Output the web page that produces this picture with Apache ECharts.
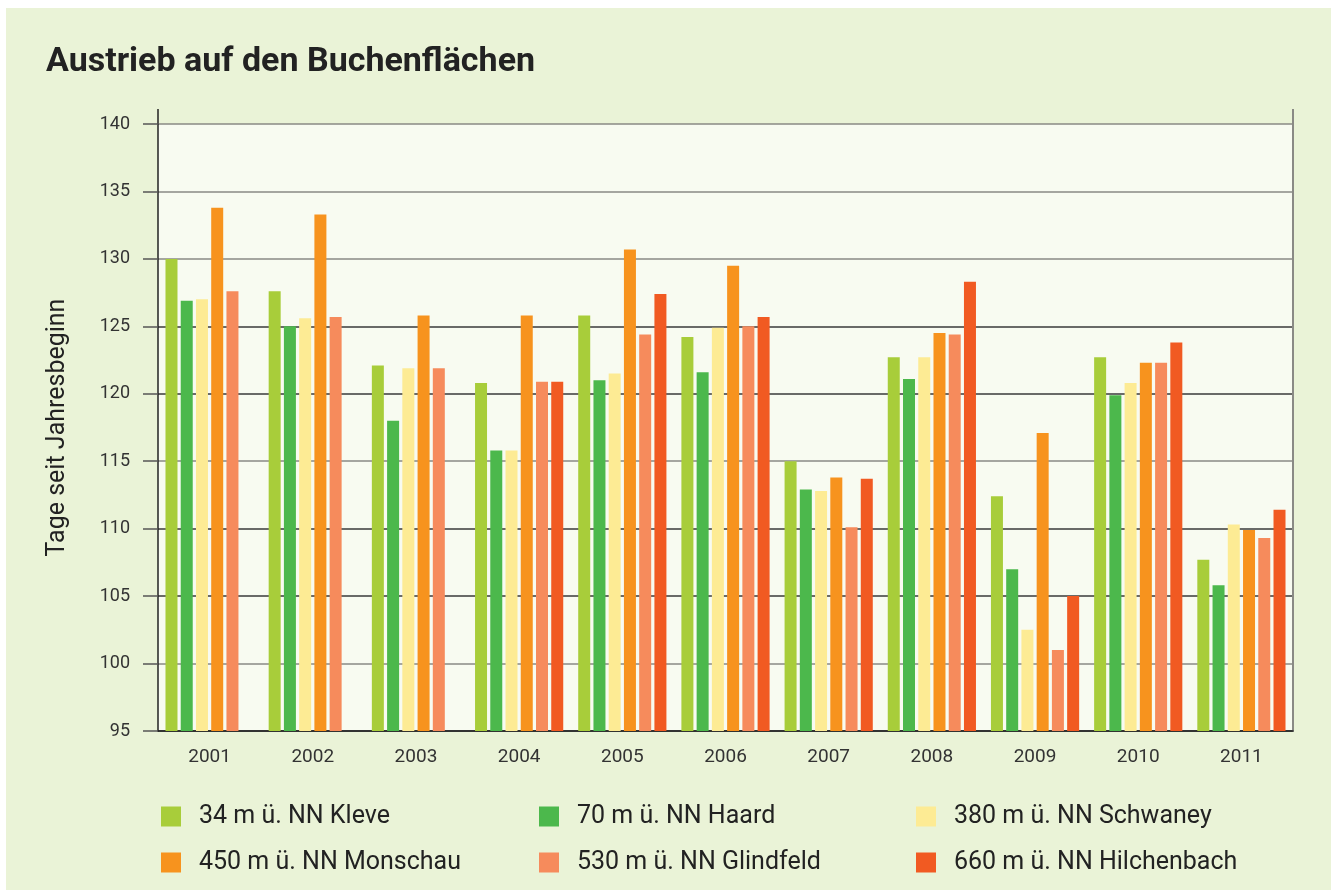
<!DOCTYPE html>
<html>
<head>
<meta charset="utf-8">
<script src="https://cdn.jsdelivr.net/npm/echarts@6/dist/echarts.min.js"></script>
<style>
  html, body { margin: 0; padding: 0; background: #ffffff; }
  #wrap { position: relative; width: 1336px; height: 890px; background: #ffffff; overflow: hidden; }
  #chart { position: absolute; left: 6px; top: 8px; width: 1325px; height: 882px; background: #eaf3d7; }
</style>
</head>
<body>
<div id="wrap"><div id="chart"></div></div>
<script>
// Jahre
const years = ['2001', '2002', '2003', '2004', '2005', '2006', '2007', '2008', '2009', '2010', '2011'];

// Austrieb in Tagen seit Jahresbeginn, je Fläche
const kleve       = [130.0, 127.6, 122.1, 120.8, 125.8, 124.2, 115.0, 122.7, 112.4, 122.7, 107.7];
const haard       = [126.9, 125.0, 118.0, 115.8, 121.0, 121.6, 112.9, 121.1, 107.0, 119.9, 105.8];
const schwaney    = [127.0, 125.6, 121.9, 115.8, 121.5, 124.9, 112.8, 122.7, 102.5, 120.8, 110.3];
const monschau    = [133.8, 133.3, 125.8, 125.8, 130.7, 129.5, 113.8, 124.5, 117.1, 122.3, 109.9];
const glindfeld   = [127.6, 125.7, 121.9, 120.9, 124.4, 125.0, 110.1, 124.4, 101.0, 122.3, 109.3];
const hilchenbach = ['-', '-', '-', 120.9, 127.4, 125.7, 113.7, 128.3, 105.0, 123.8, 111.4];

const seriesNames = ['34 m ü. NN Kleve', '70 m ü. NN Haard', '380 m ü. NN Schwaney',
                     '450 m ü. NN Monschau', '530 m ü. NN Glindfeld', '660 m ü. NN Hilchenbach'];
const seriesData = [kleve, haard, schwaney, monschau, glindfeld, hilchenbach];
const colors = ['#a8cd3a', '#4cb84c', '#fdeb94', '#f7931e', '#f68b5c', '#f15a22'];

const yTicks = { min: 95, max: 140, interval: 5 };

const FONT = 'Roboto, "Noto Sans", sans-serif';
const DARK = '#3a3a3a';
const GRAY = '#8a8a85';

const chart = echarts.init(document.getElementById('chart'));

// legend: 3 Spalten, 2 Zeilen
const legendLeft = [155, 533, 910];
const legendTop = [796, 842];
const legends = seriesNames.map((name, i) => ({
  data: [name],
  left: legendLeft[i % 3],
  top: legendTop[Math.floor(i / 3)],
  padding: 0,
  icon: 'rect',
  itemWidth: 20,
  itemHeight: 20,
  selectedMode: false,
  textStyle: { fontFamily: FONT, fontSize: 25, color: '#222', padding: [0, 0, 0, 13] }
}));

const series = seriesNames.map((name, i) => ({
  name: name,
  type: 'bar',
  data: seriesData[i],
  barWidth: 12,
  barGap: '27%',
  itemStyle: { color: colors[i] },
  emphasis: { disabled: true }
}));

const option = {
  animation: false,
  title: {
    text: 'Austrieb auf den Buchenflächen',
    left: 40,
    top: 37,
    padding: 0,
    textStyle: { fontFamily: FONT, fontSize: 34, fontWeight: 'bold', color: '#222' }
  },
  legend: legends,
  grid: {
    left: 152, right: 38, top: 116, bottom: 159,
    show: true, backgroundColor: '#f8fbf1', borderWidth: 0
  },
  xAxis: {
    type: 'category',
    data: years,
    axisLine: { lineStyle: { color: '#222', width: 1.5 } },
    axisTick: { length: 15, lineStyle: { color: '#555', width: 1.5 } },
    axisLabel: { fontFamily: FONT, fontSize: 19, color: '#333', margin: 17 }
  },
  yAxis: [{
    type: 'value',
    min: yTicks.min, max: yTicks.max, interval: yTicks.interval,
    name: 'Tage seit Jahresbeginn',
    nameLocation: 'middle',
    nameGap: 88,
    nameTextStyle: { fontFamily: FONT, fontSize: 25, color: '#222' },
    axisLine: { show: true, lineStyle: { color: '#222', width: 1.5 } },
    axisTick: { show: true, length: 15, lineStyle: { color: '#555', width: 1.5 } },
    axisLabel: { fontFamily: FONT, fontSize: 18, color: '#333', margin: 28 },
    splitLine: {
      lineStyle: {
        width: 1.5,
        color: [DARK, GRAY, DARK, DARK, GRAY, DARK, DARK, GRAY, GRAY, GRAY]
      }
    }
  }, {
    type: 'value',
    position: 'right',
    min: yTicks.min, max: yTicks.max, interval: yTicks.interval,
    axisLine: { show: true, lineStyle: { color: GRAY, width: 2 } },
    axisTick: { show: false },
    axisLabel: { show: false },
    splitLine: { show: false }
  }],
  graphic: [
    { type: 'line', shape: { x1: 152, y1: 101, x2: 152, y2: 116 }, style: { stroke: '#222', lineWidth: 1.5 } },
    { type: 'line', shape: { x1: 1287, y1: 101, x2: 1287, y2: 116 }, style: { stroke: GRAY, lineWidth: 2 } }
  ],
  series: series
};

chart.setOption(option);
</script>
</body>
</html>
